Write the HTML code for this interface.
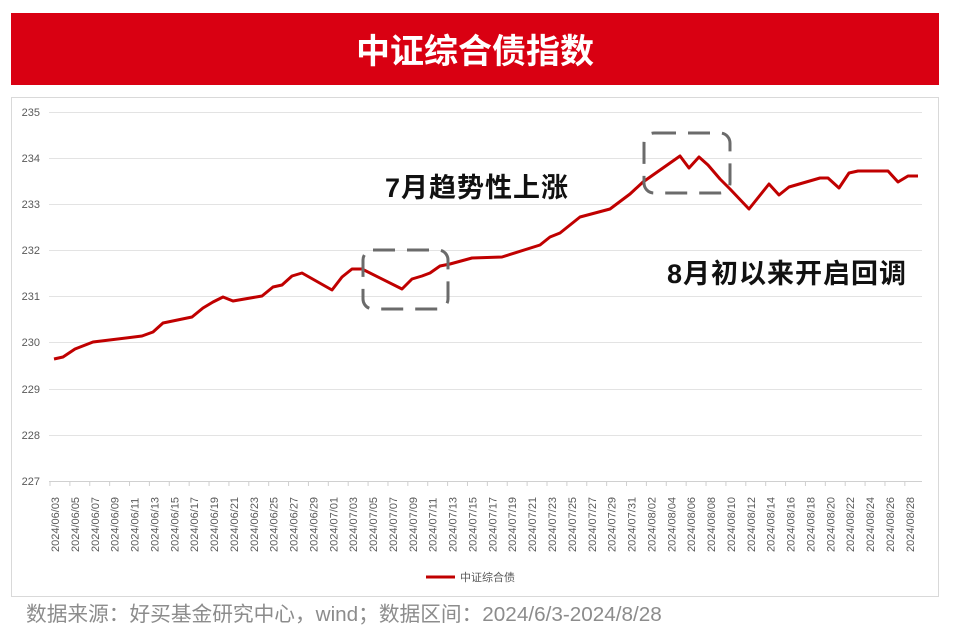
<!DOCTYPE html>
<html><head><meta charset="utf-8"><style>
body{margin:0;background:#fff;width:956px;height:640px;overflow:hidden;font-family:"Liberation Sans","Noto Sans CJK SC",sans-serif;}
</style></head><body>
<svg width="956" height="640" xmlns="http://www.w3.org/2000/svg" style="position:absolute;left:0;top:0;font-family:'Liberation Sans','Noto Sans CJK SC',sans-serif">
<rect x="11" y="13" width="928" height="72" fill="#d90012"/>
<text x="475" y="63" text-anchor="middle" font-size="34" font-weight="bold" fill="#fff">中证综合债指数</text>
<rect x="11.5" y="97.5" width="927" height="499" fill="#fff" stroke="#d9d9d9"/>
<g stroke="#e3e3e3" stroke-width="1">
<line x1="49" x2="922" y1="112.5" y2="112.5"/><line x1="49" x2="922" y1="158.5" y2="158.5"/>
<line x1="49" x2="922" y1="204.5" y2="204.5"/><line x1="49" x2="922" y1="250.5" y2="250.5"/>
<line x1="49" x2="922" y1="296.5" y2="296.5"/><line x1="49" x2="922" y1="342.5" y2="342.5"/>
<line x1="49" x2="922" y1="389.5" y2="389.5"/><line x1="49" x2="922" y1="435.5" y2="435.5"/>
</g>
<line x1="49" x2="922" y1="481.5" y2="481.5" stroke="#d0d0d0"/>
<g font-size="11" fill="#595959" text-anchor="end">
<text x="40" y="116">235</text><text x="40" y="162">234</text><text x="40" y="208">233</text>
<text x="40" y="254">232</text><text x="40" y="300">231</text><text x="40" y="346">230</text>
<text x="40" y="393">229</text><text x="40" y="439">228</text><text x="40" y="485">227</text>
</g>
<g id="ticks" stroke="#d0d0d0"></g>
<g id="xl" font-size="11" fill="#595959"></g>
<polyline fill="none" stroke="#c00000" stroke-width="3" stroke-linejoin="round" points="54,359 63,357 75,349 93,342 142,336 153,332 163,323 192,317 203,308 213,302 223,297 233,301 262,296 273,287 282,285 292,276 302,273 332,290 342,277 352,269 362,269 402,289 412,279 422,276 430,273 440,266 450,264 472,258 502,257 540,245 550,237 560,233 580,217 610,209 630,194 643,182 680,156 689,168 699,157 708,165 720,179 730,189 749,209 769,184 779,195 789,187 820,178 828,178 839,188 849,173 858,171 888,171 898,182 908,176 918,176"/>
<rect x="363" y="250" width="85" height="59" rx="10" fill="none" stroke="#6b6b6b" stroke-width="3" stroke-dasharray="22,12"/>
<rect x="644" y="133" width="86" height="60" rx="10" fill="none" stroke="#6b6b6b" stroke-width="3" stroke-dasharray="22,12"/>
<text x="385" y="197" font-size="27" font-weight="bold" fill="#111" letter-spacing="1">7月趋势性上涨</text>
<text x="667" y="283" font-size="27" font-weight="bold" fill="#111" letter-spacing="1">8月初以来开启回调</text>
<line x1="426" x2="455" y1="577" y2="577" stroke="#c00000" stroke-width="3"/>
<text x="460" y="581" font-size="11" fill="#595959">中证综合债</text>
<text x="26" y="621" font-size="20.7" fill="#8c8c8c">数据来源：好买基金研究中心，wind；数据区间：2024/6/3-2024/8/28</text>
</svg>
<script>
var ns="http://www.w3.org/2000/svg",t=document.getElementById('ticks'),xl=document.getElementById('xl');
var d=new Date(2024,5,3);
for(var i=0;i<87;i++){var x=55+9.94*i;
 if(i%2==0){var l=document.createElementNS(ns,'line');l.setAttribute('x1',x-5);l.setAttribute('x2',x-5);l.setAttribute('y1',481);l.setAttribute('y2',486);t.appendChild(l);
 var s=document.createElementNS(ns,'text');var m=('0'+(d.getMonth()+1)).slice(-2),dd=('0'+d.getDate()).slice(-2);
 s.textContent='2024/'+m+'/'+dd;s.setAttribute('transform','translate('+(x+4)+',552) rotate(-90)');xl.appendChild(s);}
 d.setDate(d.getDate()+1);}
</script>
</body></html>
